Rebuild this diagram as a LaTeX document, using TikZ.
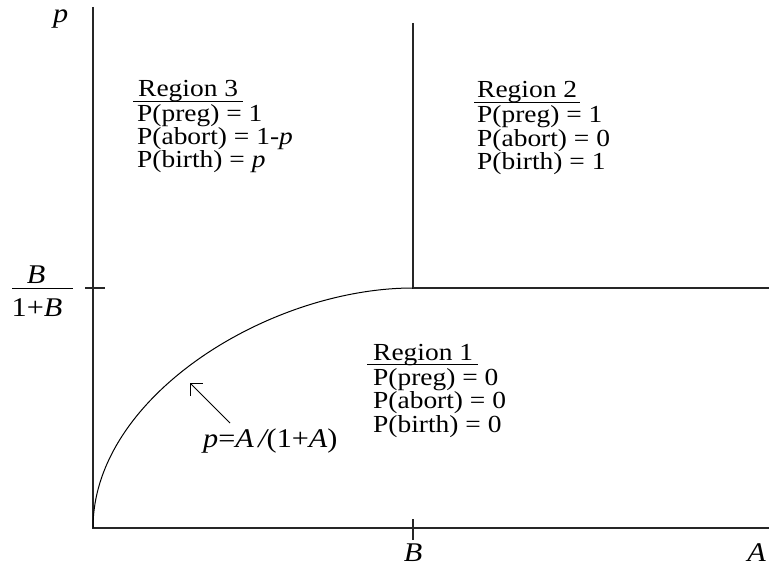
\documentclass[tikz,border=0pt]{standalone}
\usepackage{fontspec}
\setmainfont[FakeStretch=1.12]{Liberation Serif}
\usetikzlibrary{calc,arrows.meta}
\begin{document}
\begin{tikzpicture}[x=1pt,y=-1pt,
  axis/.style={line width=1.5pt, draw=black!85},
  thinln/.style={line width=1pt},
  txt/.style={anchor=base west, inner sep=0pt, font=\fontsize{24.5}{24}\selectfont},
  mth/.style={inner sep=0pt, font=\fontsize{27}{27}\selectfont\itshape},
  uline/.style={line width=1pt}]
\useasboundingbox (0,0) rectangle (769,567);
% axes and boundaries
\coordinate (top) at (93,7);
\coordinate (O) at (93,528);
\coordinate (xend) at (769,528);
\coordinate (K) at (413,288);
\coordinate (Ktop) at (413,23);
\coordinate (Kend) at (769,288);
\coordinate (yt1) at (85,288);
\coordinate (yt2) at (105,288);
\coordinate (xt1) at (413,519);
\coordinate (xt2) at (413,540);
\draw[axis] (top) -- (O) -- (xend);
\draw[axis] (Ktop) -- (K) -- (Kend);
\draw[axis] (yt1) -- (yt2);
\draw[axis] (xt1) -- (xt2);
\draw[thinln] (O) .. controls (93,396) and (270,288) .. (K);
% arrow
\coordinate (atail) at (230,423);
\coordinate (atip) at (190,383);
\draw[thinln,-{Straight Barb[length=9pt,width=18pt]}] (atail) -- (atip);
% axis labels
\node[mth, anchor=base west] (plab) at (53,23) {p};
\node[mth, anchor=base] (Bnum) at (36,283) {B};
\node[mth, anchor=base] (Bden) at (37,316) {{\upshape 1+}B};
\coordinate (fb1) at (12,288);
\coordinate (fb2) at (73,288);
\draw[thinln] (fb1) -- (fb2);
\node[mth, anchor=base] (Bx) at (413,561) {B};
\node[mth, anchor=base east] (Ax) at (766,561) {A};
\node[mth, anchor=base west] (curvelab) at (203,447) {p{\upshape =}A\,/{\upshape (1+}A{\upshape )}};
% Region 3
\node[txt] (r3) at (138,97) {Region 3};
\node[txt] (r3a) at (137,122) {P(preg) = 1};
\node[txt] (r3b) at (137,145) {P(abort) = 1-\textit{p}};
\node[txt] (r3c) at (137,168) {P(birth) = \textit{p}};
\draw[uline] ($(r3.base west)+(-5,4.5)$) -- ($(r3.base east)+(5,4.5)$);
% Region 2
\node[txt] (r2) at (477,98) {Region 2};
\node[txt] (r2a) at (477,123) {P(preg) = 1};
\node[txt] (r2b) at (477,147) {P(abort) = 0};
\node[txt] (r2c) at (477,170) {P(birth) = 1};
\draw[uline] ($(r2.base west)+(-3,4.5)$) -- ($(r2.base east)+(3,4.5)$);
% Region 1
\node[txt] (r1) at (373,360) {Region 1};
\node[txt] (r1a) at (373,385) {P(preg) = 0};
\node[txt] (r1b) at (373,408) {P(abort) = 0};
\node[txt] (r1c) at (373,432) {P(birth) = 0};
\draw[uline] ($(r1.base west)+(-6,4.5)$) -- ($(r1.base east)+(5,4.5)$);
\end{tikzpicture}
\end{document}
